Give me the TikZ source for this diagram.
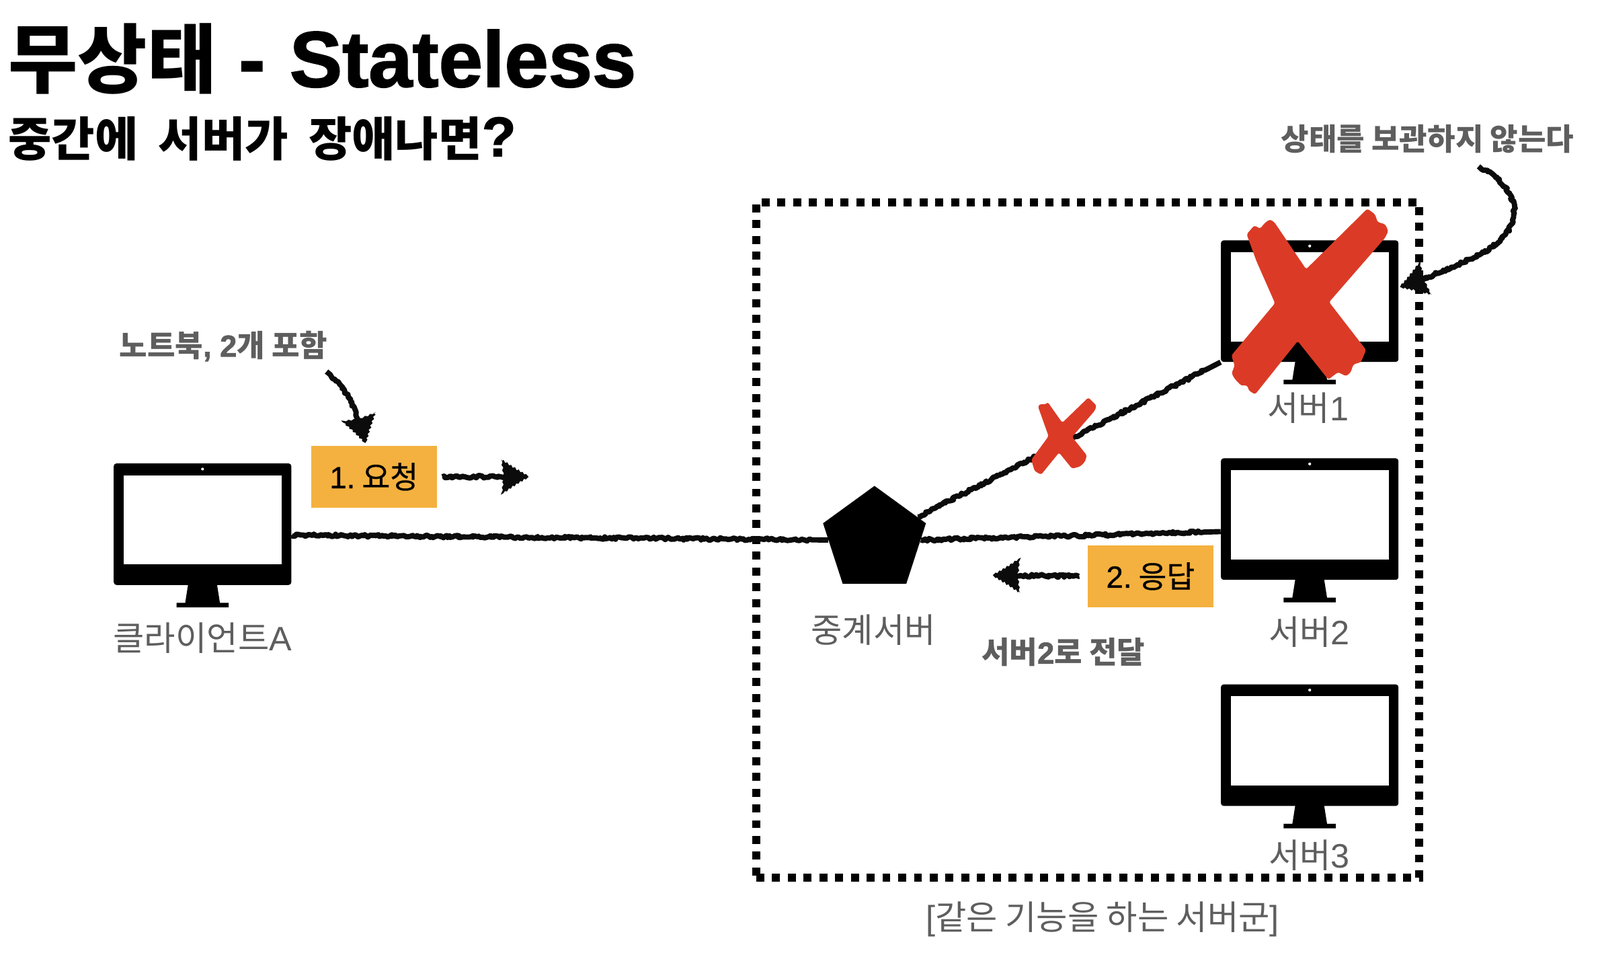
\documentclass[tikz,border=0pt]{standalone}
\usepackage{fontspec}
\setmainfont{Liberation Sans}
\newfontfamily\ko{Noto Sans CJK KR}
\newfontfamily\komed[FakeBold=.6]{Noto Sans CJK KR}
\newfontfamily\lat{Liberation Sans}
\newfontfamily\latmed[FakeBold=.8]{Liberation Sans}
\newfontfamily\latheavy[BoldFeatures={FakeBold=1.6}]{Liberation Sans}
\usetikzlibrary{shapes.geometric,decorations.pathmorphing,arrows.meta,calc}
\definecolor{labelgray}{HTML}{5E5E5E}
\definecolor{notebox}{HTML}{F4B13F}
\definecolor{crossred}{HTML}{DB3B26}
\definecolor{chalkblack}{HTML}{0C0C0C}
\newcommand{\hp}[2]{\pgfpathlineto{\pgfqpoint{#1pt}{#2pt}}}
\pgfdeclarearrow{
  name=ChalkHead,
  setup code={\pgfarrowssettipend{0pt}\pgfarrowssetbackend{-20pt}\pgfarrowssetlineend{-15pt}\pgfarrowssetvisualbackend{-17pt}},
  drawing code={%
    \pgfsetdash{}{0pt}%
    \pgfpathmoveto{\pgfqpoint{0pt}{0pt}}%
    \hp{-2}{2.1}\hp{-3.2}{1.6}\hp{-4.4}{3.6}\hp{-6}{3.3}\hp{-7.2}{5.3}\hp{-8.8}{4.7}\hp{-10}{7.1}\hp{-11.6}{6.5}\hp{-12.8}{8.7}\hp{-14.4}{8.4}\hp{-15.6}{10.6}\hp{-17.2}{10.2}\hp{-18.4}{12.4}\hp{-19.4}{11.6}\hp{-20.2}{13}%
    \hp{-19.2}{10.4}\hp{-19.9}{8.6}\hp{-18.6}{6.8}\hp{-19.4}{4.6}\hp{-18.2}{2.6}\hp{-18.9}{0.4}\hp{-18}{-1.6}\hp{-19.3}{-3.8}\hp{-18.4}{-5.8}\hp{-19.6}{-7.8}\hp{-18.9}{-9.8}\hp{-19.7}{-11.4}\hp{-20.4}{-13.2}%
    \hp{-18.6}{-12.2}\hp{-17.4}{-10.6}\hp{-15.8}{-10.8}\hp{-14.6}{-8.6}\hp{-13}{-8.8}\hp{-11.8}{-6.6}\hp{-10.2}{-7}\hp{-9}{-4.9}\hp{-7.4}{-5.2}\hp{-6.2}{-3.2}\hp{-4.6}{-3.5}\hp{-3.4}{-1.5}\hp{-2}{-2}%
    \pgfpathclose\pgfusepathqfill
  },
  parameters={x},
}
\tikzset{
  monitorbody/.style={rectangle,fill=black,rounded corners=2pt,minimum width=130.5pt,minimum height=89.3pt,inner sep=0pt},
  chalk/.style={draw=chalkblack,line width=3.9pt,line join=round,decorate,decoration={random steps,segment length=1.3pt,amplitude=.95pt,post=lineto,post length=12pt}},
  chalkarrow/.style={chalk,-ChalkHead},
  notelabel/.style={text=labelgray,font=\ko\bfseries\fontsize{22.3}{26}\selectfont,inner sep=0pt},
  namelabel/.style={text=labelgray,font=\ko\fontsize{24.9}{28}\selectfont,inner sep=0pt},
  stepbox/.style={fill=notebox,text=black,font=\komed\fontsize{22.5}{26}\selectfont,minimum width=92.3pt,minimum height=45.4pt,inner sep=0pt},
  crossmark/.style={fill=crossred,rounded corners=1.5pt},
}
\newcommand{\monitorat}[3]{%
  \fill[black] ($(#2,#3)+(-14,58)$) -- ($(#2,#3)+(14,58)$) -- ($(#2,#3)+(17,77)$) -- ($(#2,#3)+(25.5,77)$) -- ($(#2,#3)+(25.5,81.5)$) -- ($(#2,#3)+(-25.5,81.5)$) -- ($(#2,#3)+(-25.5,77)$) -- ($(#2,#3)+(-17,77)$) -- cycle;
  \node[monitorbody] (#1) at (#2,#3) {};
  \fill[white] ($(#2,#3)+(-77.5,-48)$) rectangle ($(#2,#3)+(77.5,39.5)$);
  \fill[white] ($(#2,#3)+(0,-54)$) circle (1.4);
}
\begin{document}
\begin{tikzpicture}[x=.75pt,y=-.75pt]
\useasboundingbox (0,0) rectangle (1568,935.5);
\fill[white] (0,0) rectangle (1568,935.5);

% group frame
\node[draw=black,line width=5.9pt,dash pattern=on 5.9pt off 5.7pt,minimum width=487.5pt,minimum height=496.5pt,inner sep=0pt] (group) at (1066,529) {};

% monitors
\monitorat{clienta}{198.5}{513.5}
\monitorat{srvone}{1283.5}{295}
\monitorat{srvtwo}{1283.5}{508.5}
\monitorat{srvthree}{1283.5}{730}

% relay
\node[regular polygon,regular polygon sides=5,minimum size=79.5pt,inner sep=0pt,fill=black] (relay) at (857,529) {};

% links
\draw[chalk] (clienta.-7) -- (relay.180);
\draw[chalk] (relay.0) -- (srvtwo.-172);
\draw[chalk] (relay.28) -- (srvone.south west);

% titles
\node[anchor=base west,inner sep=0pt,font=\latheavy\bfseries\fontsize{58}{62}\selectfont] (title) at (8,85) {{\ko\bfseries\fontsize{55.5}{62}\selectfont 무상태} - \hspace{2pt}Stateless};
\node[anchor=base west,inner sep=0pt,font=\ko\bfseries\fontsize{34.6}{38}\selectfont] (subtitle) at (8,153) {중간에\hspace{.2em} 서버가\hspace{.2em} 장애나면{\latheavy\bfseries\fontsize{41}{40}\selectfont ?}};

% step boxes
\node[stepbox] (req) at (366.5,467) {{\latmed 1.}\hspace{.22em}요청};
\node[stepbox] (res) at (1127.5,564.5) {{\latmed 2.}\hspace{.22em}응답};
\coordinate (reqtip) at (518,467);
\coordinate (restip) at (973,563.5);
\draw[chalkarrow] ($(req.east)+(5,0)$) -- (reqtip);
\draw[chalkarrow] ($(res.west)+(-8,0)$) -- (restip);

% notes
\node[notelabel] (notenb) at (219,339) {노트북{\latheavy\bfseries , 2}개 포함};
\node[notelabel] (notest) at (1399,136) {상태를 보관하지 않는다};
\node[notelabel] (noterelay) at (1042,639) {서버{\latheavy\bfseries 2}로 전달};
\coordinate (nbstart) at (320,364);
\coordinate (nbtip) at (358,434);
\coordinate (ststart) at (1449,163);
\coordinate (sttip) at (1372,281);
\draw[chalkarrow] (nbstart) .. controls (340,380) and (352,405) .. (nbtip);
\draw[chalkarrow] (ststart) .. controls (1492,185) and (1502,228) .. (1440,254) .. controls (1420,263) and (1400,272) .. (sttip);

% names
\node[namelabel] (nameclient) at (198.5,625) {클라이언트{\lat A}};
\node[namelabel] (namerelay) at (856,617) {중계서버};
\node[namelabel] (nameone) at (1282,400) {서버{\lat 1}};
\node[namelabel] (nametwo) at (1283,619) {서버{\lat 2}};
\node[namelabel] (namethree) at (1283,838) {서버{\lat 3}};
\node[namelabel] (namegroup) at (1080.5,900.5) {{\lat [}같은 기능을 하는 서버군{\lat ]}};

% crosses
\begin{scope}[shift={(1173.75,107.5)},x=.1875pt,y=-.1634pt]
\fill[crossmark] (192,560) -- (222,520) -- (245,535) -- (262,510) -- (283,493) -- (300,505) -- (425,717) -- (665,445) -- (695,470) -- (705,505) -- (735,515) -- (747,545) -- (735,575) -- (515,865) -- (660,1080) -- (640,1135) -- (610,1145) -- (600,1180) -- (582,1198) -- (550,1180) -- (512,1213) -- (392,1040) -- (225,1280) -- (200,1262) -- (195,1240) -- (170,1240) -- (145,1210) -- (133,1185) -- (145,1150) -- (132,1105) -- (303,870) -- (230,680) -- cycle;
\end{scope}
\begin{scope}[shift={(724.5,369.2)},x=.2398pt,y=-.1645pt]
\fill[crossmark] (915,130) -- (925,120) -- (938,125) -- (945,112) -- (990,205) -- (1070,92) -- (1082,110) -- (1095,128) -- (1090,150) -- (1020,268) -- (1065,350) -- (1060,378) -- (1045,400) -- (1020,410) -- (980,338) -- (925,437) -- (905,420) -- (895,370) -- (948,265) -- cycle;
\end{scope}
\end{tikzpicture}
\end{document}
